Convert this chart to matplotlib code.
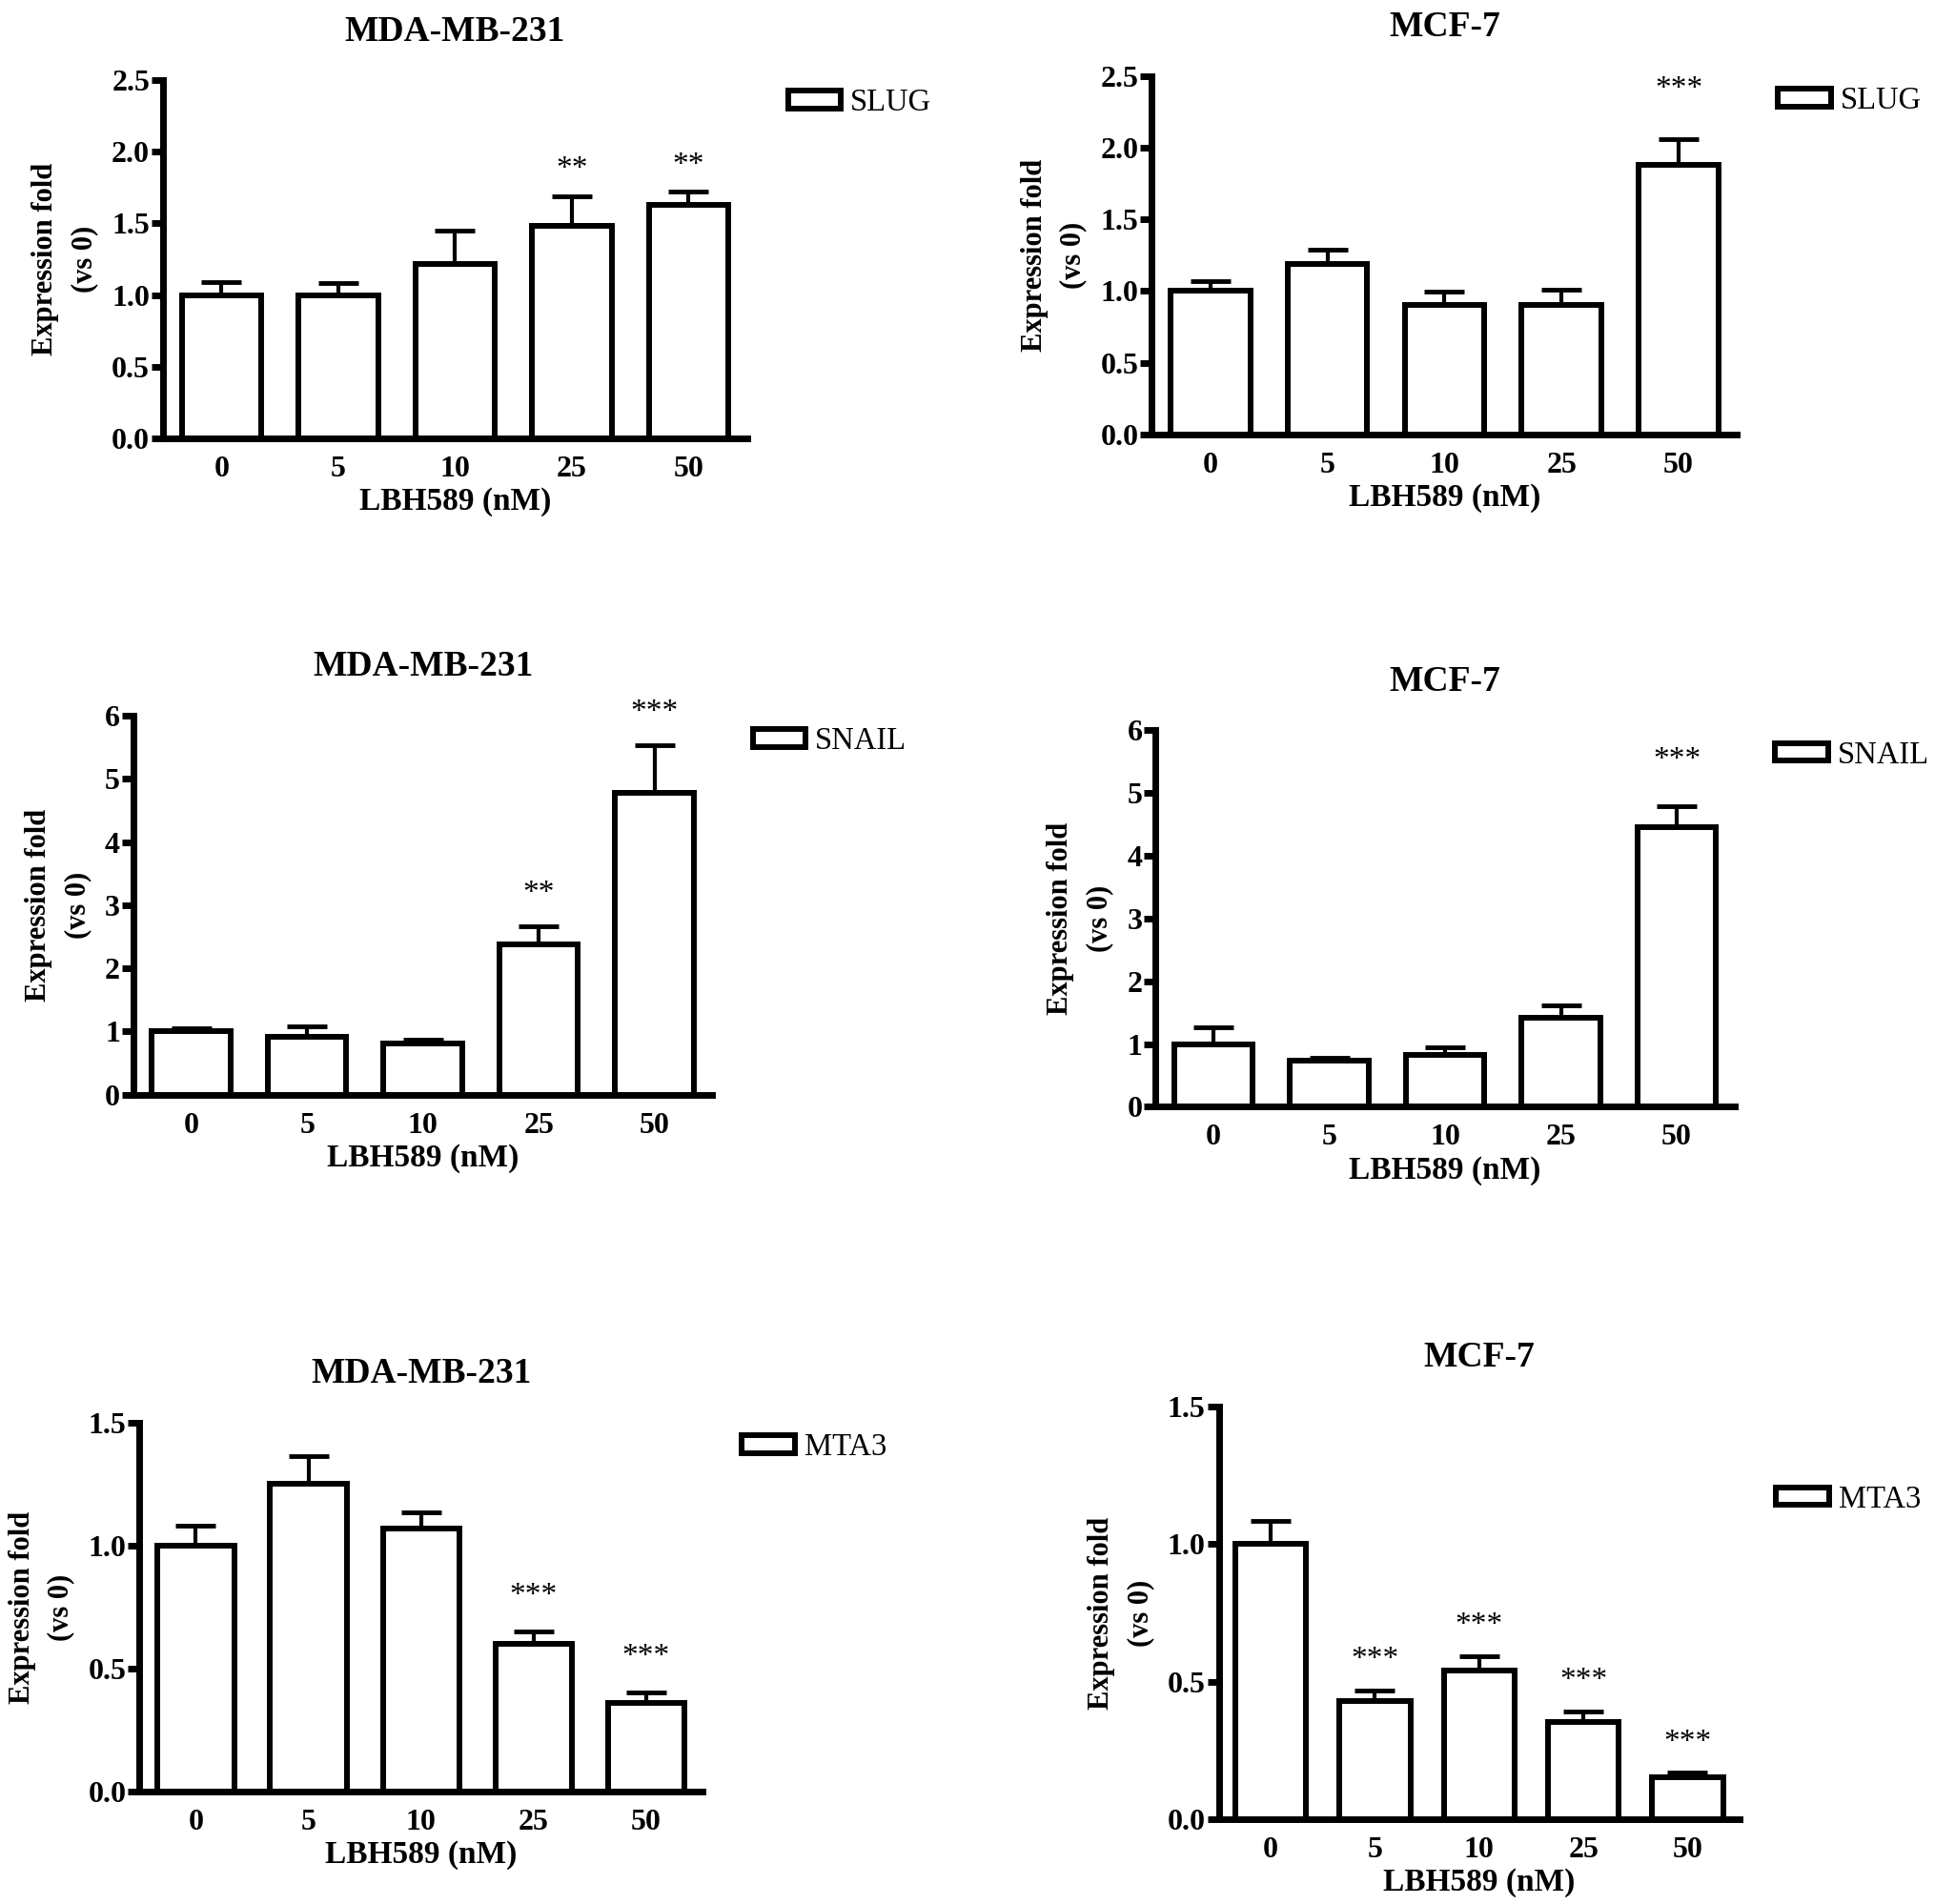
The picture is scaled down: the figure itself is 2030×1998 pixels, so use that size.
import matplotlib
matplotlib.use("Agg")
import matplotlib.pyplot as plt
import numpy as np

plt.rcParams["font.family"] = ["Liberation Serif", "DejaVu Serif"]

DOSES = ["0", "5", "10", "25", "50"]
CELLS = ["MDA-MB-231", "MCF-7", "MDA-MB-231", "MCF-7", "MDA-MB-231", "MCF-7"]
GENES = ["SLUG", "SLUG", "SNAIL", "SNAIL", "MTA3", "MTA3"]

slug_mda = [1.00, 1.00, 1.22, 1.48, 1.63]
slug_mda_sem = [0.09, 0.085, 0.23, 0.21, 0.09]
slug_mcf = [1.00, 1.19, 0.905, 0.905, 1.88]
slug_mcf_sem = [0.073, 0.10, 0.09, 0.105, 0.18]
snail_mda = [1.00, 0.91, 0.81, 2.38, 4.78]
snail_mda_sem = [0.05, 0.17, 0.06, 0.28, 0.75]
snail_mcf = [1.00, 0.73, 0.83, 1.42, 4.46]
snail_mcf_sem = [0.27, 0.05, 0.12, 0.20, 0.33]
mta3_mda = [1.00, 1.25, 1.07, 0.60, 0.36]
mta3_mda_sem = [0.08, 0.115, 0.065, 0.052, 0.043]
mta3_mcf = [1.00, 0.43, 0.54, 0.353, 0.151]
mta3_mcf_sem = [0.085, 0.037, 0.053, 0.039, 0.017]

slug_mda_sig = ["", "", "", "**", "**"]
slug_mcf_sig = ["", "", "", "", "***"]
snail_mda_sig = ["", "", "", "**", "***"]
snail_mcf_sig = ["", "", "", "", "***"]
mta3_mda_sig = ["", "", "", "***", "***"]
mta3_mcf_sig = ["", "***", "***", "***", "***"]

VALUES = [slug_mda, slug_mcf, snail_mda, snail_mcf, mta3_mda, mta3_mcf]
SEMS = [slug_mda_sem, slug_mcf_sem, snail_mda_sem, snail_mcf_sem, mta3_mda_sem, mta3_mcf_sem]
SIGS = [slug_mda_sig, slug_mcf_sig, snail_mda_sig, snail_mcf_sig, mta3_mda_sig, mta3_mcf_sig]
YMAX = [2.5, 2.5, 6, 6, 1.5, 1.5]
YSTEP = [0.5, 0.5, 1, 1, 0.5, 0.5]

# layout (figure fractions), legend anchor (axes fraction), star offset (pt)
RECTS = [
    (0.0842, 0.7699, 0.3017, 0.1879),
    (0.5950, 0.7719, 0.3023, 0.1880),
    (0.0689, 0.4251, 0.2991, 0.1990),
    (0.5969, 0.4187, 0.2991, 0.1977),
    (0.0721, 0.0590, 0.2908, 0.1938),
    (0.6295, 0.0447, 0.2691, 0.2165),
]
LEG = [(1.07, 0.938), (1.07, 0.931), (1.07, 0.932), (1.07, 0.934), (1.07, 0.933), (1.07, 0.775)]
STAR_OFF = [20, 38, 25, 35, 27, 23]

fig = plt.figure(figsize=(20.31, 19.98), dpi=100)
x = np.arange(len(DOSES))

for i in range(6):
    ax = fig.add_axes(RECTS[i])
    vals, sem = VALUES[i], SEMS[i]
    bars = ax.bar(x, vals, 0.68, color="white", edgecolor="black", linewidth=4.3,
                  label=GENES[i], zorder=3)
    ax.errorbar(x, vals, yerr=[np.zeros(len(vals)), sem], fmt="none", ecolor="black",
                elinewidth=3, capsize=15, capthick=3.5, zorder=2)
    for xi, v, s, lab in zip(x, vals, sem, SIGS[i]):
        if lab:
            ax.annotate(lab, (xi, v + s), xytext=(0, STAR_OFF[i]), textcoords="offset points",
                        ha="center", va="center", fontsize=24)
    ax.set_xlim(-0.5, 4.5)
    ax.set_ylim(0, YMAX[i])
    ax.set_yticks(np.arange(0, YMAX[i] + 1e-9, YSTEP[i]))
    if YSTEP[i] < 1:
        ax.set_yticklabels([f"{t:.1f}" for t in np.arange(0, YMAX[i] + 1e-9, YSTEP[i])])
    ax.set_xticks(x)
    ax.set_xticklabels(DOSES)
    for side in ("top", "right"):
        ax.spines[side].set_visible(False)
    for side in ("left", "bottom"):
        ax.spines[side].set_linewidth(5)
    ax.tick_params(axis="y", length=9, width=5, pad=1, labelsize=23)
    ax.tick_params(axis="x", length=0, pad=13, labelsize=23)
    for t in ax.get_xticklabels() + ax.get_yticklabels():
        t.set_fontweight("bold")
    ax.set_xlabel("LBH589 (nM)", fontsize=24, fontweight="bold", labelpad=3)
    ax.set_ylabel("Expression fold\n(vs 0)", fontsize=22, fontweight="bold", labelpad=10,
                  linespacing=1.55)
    ax.set_title(CELLS[i], fontsize=27, fontweight="bold", pad=30)
    ax.legend(handles=[bars.patches[0]], labels=[GENES[i]], loc="center left",
              bbox_to_anchor=LEG[i], frameon=False, fontsize=23.5, handlelength=1.7,
              handleheight=0.5, handletextpad=0.3, borderpad=0, borderaxespad=0)

fig.savefig("out.png", dpi=100)
